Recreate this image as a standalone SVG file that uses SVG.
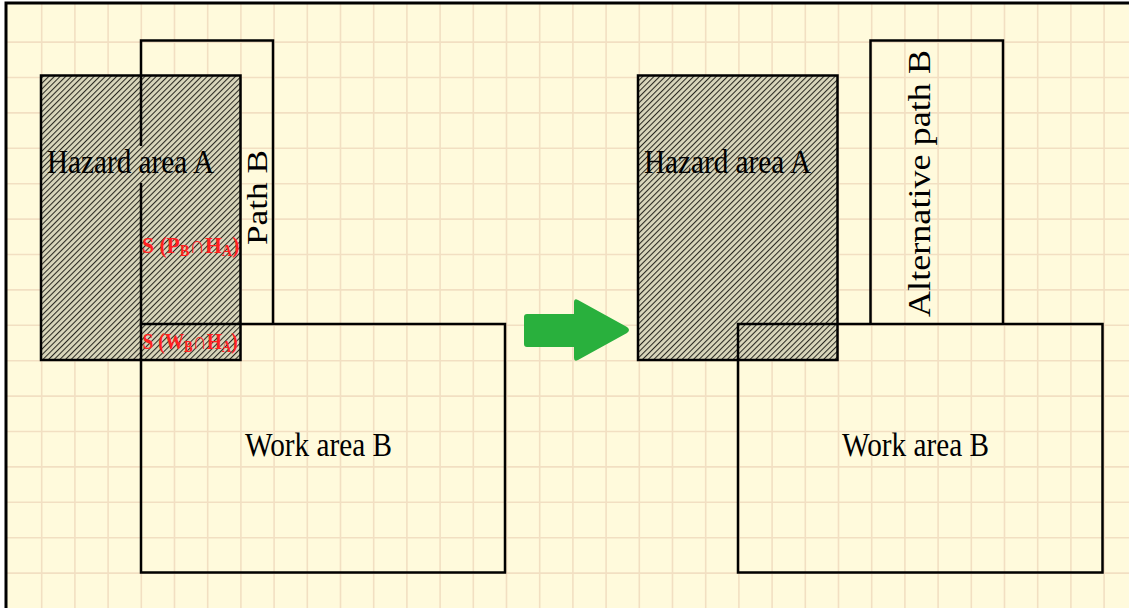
<svg xmlns="http://www.w3.org/2000/svg" width="1129" height="608" viewBox="0 0 1129 608">
  <defs>
    <pattern id="hatch" patternUnits="userSpaceOnUse" width="4" height="4" patternTransform="rotate(45)">
      <rect width="4" height="4" fill="#d9d6bb"/>
      <line x1="0" y1="0" x2="0" y2="4" stroke="#2a2922" stroke-width="2.1"/>
    </pattern>
    <style>
      .grid { fill: none; stroke: #f2dfc2; stroke-width: 1.6; }
      .box { fill: none; stroke: #000; stroke-width: 2.5; }
      .haz { fill: url(#hatch); stroke: #000; stroke-width: 2.5; }
      .lbl { font-family: "Liberation Serif", "Times New Roman", serif; font-size: 34px; fill: #000; }
      .vlbl { font-family: "Liberation Serif", "Times New Roman", serif; font-size: 30px; fill: #000; }
      .red { font-family: "Liberation Serif", "Times New Roman", serif; font-size: 24px; font-weight: bold; fill: #ff2020; }
      .sub { font-size: 16px; }
      .cap { font-weight: normal; }
    </style>
  </defs>

  <rect width="1129" height="608" fill="#ffffff"/>
  <rect x="6" y="3" width="1200" height="700" fill="#fffadc"/>
  <path class="grid" d="M41.7,4V608M74.9,4V608M108.1,4V608M141.3,4V608M174.5,4V608M207.7,4V608M240.9,4V608M274.1,4V608M307.3,4V608M340.5,4V608M373.7,4V608M406.9,4V608M440.1,4V608M473.3,4V608M506.5,4V608M539.7,4V608M572.9,4V608M606.1,4V608M639.3,4V608M672.5,4V608M705.7,4V608M738.9,4V608M772.1,4V608M805.3,4V608M838.5,4V608M871.7,4V608M904.9,4V608M938.1,4V608M971.3,4V608M1004.5,4V608M1037.7,4V608M1070.9,4V608M1104.1,4V608M7,42.1H1129M7,77.5H1129M7,112.9H1129M7,148.3H1129M7,183.7H1129M7,219.1H1129M7,254.5H1129M7,289.9H1129M7,325.3H1129M7,360.7H1129M7,396.1H1129M7,431.5H1129M7,466.9H1129M7,502.3H1129M7,537.7H1129M7,573.1H1129"/>
  <rect x="6" y="3" width="1200" height="700" fill="none" stroke="#000" stroke-width="3"/>

  <!-- Left scenario -->
  <g id="hazard-area-a-left">
    <rect class="haz" x="41" y="75.5" width="199.5" height="284.5"/>
  </g>
  <g id="path-b">
    <path class="box" d="M141,146 V40.5 H273 V324"/>
    <path class="box" d="M141,183 V324"/>
    <text class="vlbl" transform="translate(266.5,245) rotate(-90)" textLength="95" lengthAdjust="spacingAndGlyphs">Path B</text>
  </g>
  <g id="work-area-b-left">
    <rect class="box" x="141" y="324" width="364" height="248.5"/>
    <text class="lbl" x="245" y="456" textLength="147" lengthAdjust="spacingAndGlyphs">Work area B</text>
  </g>
  <g id="hazard-label-left">
    <text class="lbl" x="47" y="173" textLength="167" lengthAdjust="spacingAndGlyphs">Hazard area A</text>
  </g>
  <g id="overlap-path">
    <text class="red" transform="translate(142,253) scale(0.9,1)">S (P<tspan class="sub" dy="3">B</tspan><tspan class="cap" dy="-3">∩</tspan>H<tspan class="sub" dy="3">A</tspan><tspan dy="-3">)</tspan></text>
  </g>
  <g id="overlap-work">
    <text class="red" transform="translate(142.5,349) scale(0.81,1)">S (W<tspan class="sub" dy="3">B</tspan><tspan class="cap" dy="-3">∩</tspan>H<tspan class="sub" dy="3">A</tspan><tspan dy="-3">)</tspan></text>
  </g>

  <!-- Transition arrow -->
  <g id="connectors">
    <path d="M527,314 H574 V302 Q574,298 578,300 L627,327 Q631,330 627,333 L578,360 Q574,362 574,358 V347 H527 Q524,347 524,344 V317 Q524,314 527,314 Z" fill="#29b03d"/>
  </g>

  <!-- Right scenario -->
  <g id="work-area-b-right">
    <rect class="box" x="738" y="324" width="364.5" height="248.5"/>
    <text class="lbl" x="842" y="456" textLength="147" lengthAdjust="spacingAndGlyphs">Work area B</text>
  </g>
  <g id="hazard-area-a-right">
    <rect class="haz" x="638" y="75.5" width="199.5" height="284.5"/>
    <path class="box" d="M738,360 V324 H837.5"/>
    <text class="lbl" x="644" y="173" textLength="167" lengthAdjust="spacingAndGlyphs">Hazard area A</text>
  </g>
  <g id="alternative-path-b">
    <path class="box" d="M870.5,324 V40.5 H1003 V324"/>
    <text class="vlbl" transform="translate(930,317) rotate(-90)" style="font-size:31px" textLength="267" lengthAdjust="spacingAndGlyphs">Alternative path B</text>
  </g>
</svg>
